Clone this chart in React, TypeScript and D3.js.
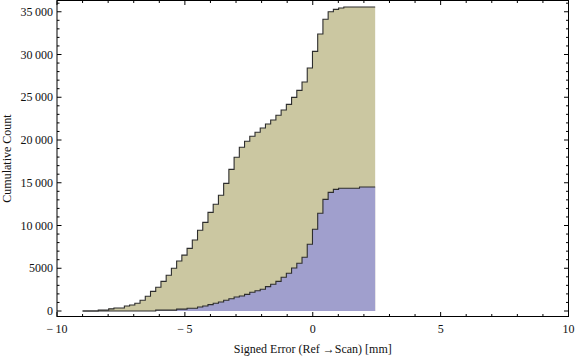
import React from "react";
import * as d3 from "d3";

const binStart = -9;
const binWidth = 0.2043;
const totalCounts = [
  0, 0, 0, 100, 100, 250, 350, 350, 580, 700,
  900, 1250, 1720, 2300, 2770, 3470, 4175, 5000, 5850, 6530,
  7330, 8300, 9440, 10370, 11540, 12480, 13530, 14930, 16570, 17980,
  19150, 19850, 20430, 20900, 21400, 21870, 22340, 22890, 23510, 24170,
  24990, 25810, 26780, 28420, 30370, 32400, 34120, 35000, 35280, 35440,
  35560, 35560, 35560, 35560, 35560, 35560,
];
const subsetCounts = [
  0, 0, 0, 0, 0, 0, 0, 0, 0, 0,
  0, 0, 0, 0, 100, 100, 100, 100, 220, 220,
  330, 330, 470, 585, 740, 900, 1050, 1250, 1440, 1640,
  1750, 1950, 2190, 2370, 2540, 2850, 3120, 3470, 3940, 4420,
  5030, 5580, 6280, 7800, 9560, 11430, 13060, 13880, 14230, 14350,
  14350, 14350, 14350, 14500, 14500, 14500,
];
const xTicksMajor = [-10, -5, 0, 5, 10];
const xTickLabels = ["\u2212\u200910", "\u2212\u20095", "0", "5", "10"];
const yTicksMajor = [0, 5000, 10000, 15000, 20000, 25000, 30000, 35000];
const yTickLabels = ["0", "5000", "10\u2009000", "15\u2009000", "20\u2009000", "25\u2009000", "30\u2009000", "35\u2009000"];

const W = 576, H = 357;
const L = 57, R = 568.5, T = 0.5, B = 316.5;
const zeroY = 311, topY = 11.75; // pixel for 0 and 35000
const pxPerCount = (zeroY - topY) / 35000;
const yMin = -(B - zeroY) / pxPerCount;
const yMax = (zeroY - T) / pxPerCount;

const font = "'Liberation Serif', 'Times New Roman', serif";

export default function App() {
  const x = d3.scaleLinear().domain([-10, 10]).range([L, R]);
  const y = d3.scaleLinear().domain([yMin, yMax]).range([B, T]);

  const toPts = (vals: number[]) => {
    const pts: [number, number][] = vals.map((v, i) => [binStart + i * binWidth, v]);
    pts.push([binStart + vals.length * binWidth, vals[vals.length - 1]]);
    return pts;
  };
  const area = d3.area<[number, number]>()
    .x((d) => x(d[0])).y0(y(0)).y1((d) => y(d[1])).curve(d3.curveStepAfter);
  const line = d3.line<[number, number]>()
    .x((d) => x(d[0])).y((d) => y(d[1])).curve(d3.curveStepAfter);

  const tp = toPts(totalCounts);
  const sp = toPts(subsetCounts);

  const xMinor = d3.range(-10, 11, 1).filter((v) => v % 5 !== 0);
  const yMinor = d3.range(-1000, 37000, 1000).filter((v) => v % 5000 !== 0 && v >= yMin && v <= yMax);
  const maj = 4.5, min = 2.5;
  const stroke = "#000";

  return (
    <svg width={W} height={H} style={{ position: "absolute", left: 0, top: 0 }}>
      <rect width={W} height={H} fill="#fff" />
      <path d={area(tp) || ""} fill="#cbc7a1" />
      <path d={area(sp) || ""} fill="#a09fcd" />
      <path d={line(tp) || ""} fill="none" stroke="#2d2d2d" strokeWidth={1.1} />
      <path d={line(sp) || ""} fill="none" stroke="#2d2d2d" strokeWidth={1.1} />
      <rect x={L} y={T} width={R - L} height={B - T} fill="none" stroke={stroke} strokeWidth={1} />
      {xTicksMajor.map((v) => (
        <g key={"xm" + v}>
          <line x1={x(v)} x2={x(v)} y1={B} y2={B - maj} stroke={stroke} />
          <line x1={x(v)} x2={x(v)} y1={T} y2={T + maj} stroke={stroke} />
        </g>
      ))}
      {xMinor.map((v) => (
        <g key={"xn" + v}>
          <line x1={x(v)} x2={x(v)} y1={B} y2={B - min} stroke={stroke} />
          <line x1={x(v)} x2={x(v)} y1={T} y2={T + min} stroke={stroke} />
        </g>
      ))}
      {yTicksMajor.map((v) => (
        <g key={"ym" + v}>
          <line x1={L} x2={L + maj} y1={y(v)} y2={y(v)} stroke={stroke} />
          <line x1={R} x2={R - maj} y1={y(v)} y2={y(v)} stroke={stroke} />
        </g>
      ))}
      {yMinor.map((v) => (
        <g key={"yn" + v}>
          <line x1={L} x2={L + min} y1={y(v)} y2={y(v)} stroke={stroke} />
          <line x1={R} x2={R - min} y1={y(v)} y2={y(v)} stroke={stroke} />
        </g>
      ))}
      {xTicksMajor.map((v, i) => (
        <text key={"xl" + v} x={x(v)} y={333} textAnchor="middle" fontFamily={font} fontSize={12} fill="#111">
          {xTickLabels[i]}
        </text>
      ))}
      {yTicksMajor.map((v, i) => (
        <text key={"yl" + v} x={53} y={y(v) + 4} textAnchor="end" fontFamily={font} fontSize={12} fill="#111">
          {yTickLabels[i]}
        </text>
      ))}
      <text x={(L + R) / 2} y={353} textAnchor="middle" fontFamily={font} fontSize={12} fill="#111">
        Signed Error (Ref →Scan) [mm]
      </text>
      <text transform={`translate(11,${(T + B) / 2}) rotate(-90)`} textAnchor="middle" fontFamily={font} fontSize={12} fill="#111">
        Cumulative Count
      </text>
    </svg>
  );
}
